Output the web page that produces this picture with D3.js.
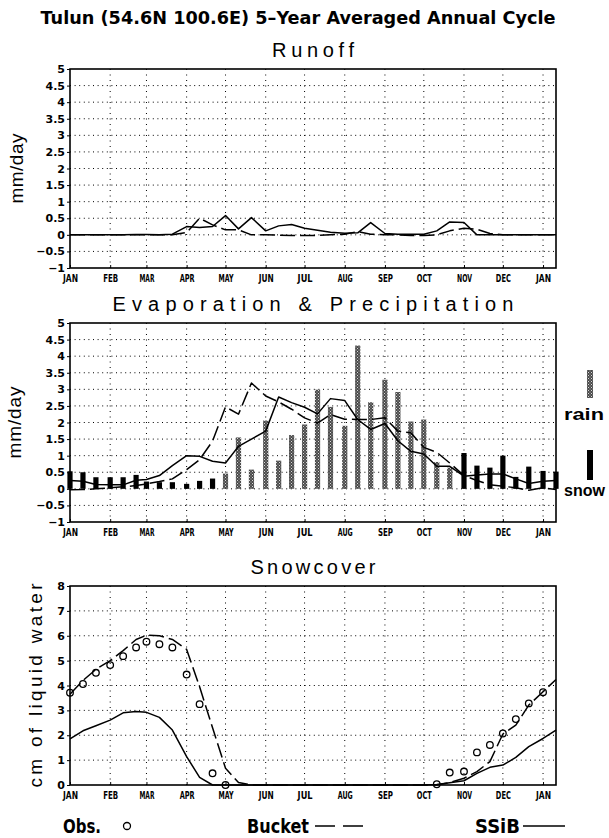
<!DOCTYPE html>
<html>
<head>
<meta charset="utf-8">
<script src="https://cdn.jsdelivr.net/npm/d3@7"></script>
<style>
  body { margin: 0; background: #fff; }
  svg { display: block; }
  .cond { font-family: "DejaVu Sans", sans-serif; font-weight: bold; }
  .narrow { font-family: "Liberation Sans", Arial, sans-serif; font-weight: bold; }
  .thin { font-family: "Liberation Sans", "DejaVu Sans", sans-serif; font-weight: normal; }
  .tick text { font-family: "DejaVu Sans", sans-serif; font-weight: bold; font-size: 11px; fill: #000; }
</style>
</head>
<body>
<svg id="chart" width="609" height="838"></svg>
<script>
// month labels (x axis) and day of year where each month starts
var monthLabels = ["JAN","FEB","MAR","APR","MAY","JUN","JUL","AUG","SEP","OCT","NOV","DEC","JAN"];
var monthStart  = [0, 31, 59, 90, 120, 151, 181, 212, 243, 273, 304, 334, 365];

// 10-day periods (day of year) used by all series
var dekadDays = [0,10,20, 31,41,51, 59,69,79, 90,100,110, 120,130,140, 151,161,171,
                 181,191,201, 212,222,232, 243,253,263, 273,283,293, 304,314,324,
                 334,344,354, 365,375];

// Runoff (mm/day)
var runoffBucket = [0,0,0,0,0,0,0,0,0, 0.07,0.5,0.3, 0.15,0.15,0,0,-0.01,-0.02,
                    -0.02,-0.02,0,0.02,0.1,0.02, 0,0,-0.02,-0.02,0,0.12,
                    0.2,0.17,0.04,0, 0,0,0,0];
var runoffSSiB   = [0,0,0,0,0,0.01,0.01,0,0.02, 0.25,0.22,0.25, 0.58,0.18,0.52,0.12,0.27,0.31,
                    0.2,0.14,0.08,0.05,0.06,0.37, 0.04,0.02,0.02,0.02,0.12,0.39,
                    0.37,0,0,0, 0,0,0,0];

// Precipitation bars (mm/day) and their type
var precip     = [0.53,0.5,0.35,0.35,0.35,0.42,0.22,0.2,0.2,0.15,0.24,0.31,
                  0.46,1.55,0.58,2.06,0.85,1.62,1.94,2.99,2.47,1.9,4.32,2.61,
                  3.29,2.92,2.03,2.09,0.81,0.64,1.08,0.7,0.64,1.0,0.36,0.67,0.54,0.52];
var precipType = ["snow","snow","snow","snow","snow","snow","snow","snow","snow","snow","snow","snow",
                  "rain","rain","rain","rain","rain","rain","rain","rain","rain","rain","rain","rain",
                  "rain","rain","rain","rain","rain","rain","snow","snow","snow","snow","snow","snow","snow","snow"];

// Evaporation (mm/day)
var evapBucket = [-0.03,-0.02,0,0.03,0.06,0.1,0.15,0.22,0.3, 0.58,0.88,1.44, 2.47,2.25,3.19,2.8,2.62,2.4,
                  2.14,1.98,2.24,2.1,2.09,2.09, 2.14,1.74,1.69,1.25,1.1,0.78,
                  0.4,0.25,0.12,0.08,0.03,-0.04,0.03,-0.02];
var evapSSiB   = [0.25,0.23,0.13,0.12,0.12,0.26,0.28,0.4,0.7, 1.0,0.98,0.83, 0.78,1.28,1.5,1.74,2.77,2.6,
                  2.46,2.26,2.72,2.66,2.09,1.79, 1.97,1.45,1.13,1.05,0.68,0.68,
                  0.38,0.42,0.45,0.45,0.3,0.16,0.23,0.25];

// Snowcover (cm of liquid water)
var snowBucket = [3.65,4.2,4.65,5.0,5.4,5.85,6.02,6.0,5.85, 5.45,3.95,2.3, 0.67,0.1,0,0,0,0,
                  0,0,0,0,0,0, 0,0,0,0,0,0.1, 0.27,0.54,0.94,2.05,2.41,3.21,3.75,4.24];
var snowSSiB   = [1.85,2.18,2.38,2.61,2.9,2.95,2.92,2.72,2.21, 1.14,0.31,0, 0,0,0,0,0,0,
                  0,0,0,0,0,0, 0,0,0,0,0.02,0.09, 0.17,0.47,0.71,0.8,1.11,1.54,1.87,2.21];
var obsDays = [0,10,20,31,41,51,59,69,79,90,100,110,120, 283,293,304,314,324,334,344,354,365];
var obsSnow = [3.71,4.06,4.51,4.82,5.18,5.53,5.76,5.66,5.53,4.44,3.25,0.47,0.0,
               0.03,0.5,0.54,1.31,1.61,2.07,2.65,3.28,3.73];

var svg = d3.select("#chart");
var x = d3.scaleLinear().domain([0, 375]).range([70, 556]);

svg.append("text").attr("class", "cond")
    .attr("x", 298).attr("y", 24).attr("text-anchor", "middle")
    .attr("font-size", 17)
    .attr("textLength", 515).attr("lengthAdjust", "spacingAndGlyphs")
    .text("Tulun (54.6N 100.6E) 5\u2013Year Averaged Annual Cycle");

// draws a panel frame, grid, axes; returns y scale
function panel(top, bottom, domain, yStep, title, titleLen, yLabel, yLabelLen, yLabelX) {
    var y = d3.scaleLinear().domain(domain).range([bottom, top]);
    var yTicks = d3.range(domain[0], domain[1] + yStep / 2, yStep);
    var g = svg.append("g");

    // dotted grid
    g.selectAll(".hg").data(yTicks.slice(1, -1)).enter().append("line")
        .attr("x1", 70).attr("x2", 556)
        .attr("y1", function(d){ return y(d); }).attr("y2", function(d){ return y(d); })
        .attr("stroke", "#000").attr("stroke-width", 1).attr("stroke-dasharray", "1,3.6");
    g.selectAll(".vg").data(monthStart.slice(1)).enter().append("line")
        .attr("x1", function(d){ return x(d); }).attr("x2", function(d){ return x(d); })
        .attr("y1", top).attr("y2", bottom)
        .attr("stroke", "#000").attr("stroke-width", 1).attr("stroke-dasharray", "1,4.5");

    g.append("g").attr("transform", "translate(70,0)")
        .call(d3.axisLeft(y).tickValues(yTicks).tickSize(3).tickPadding(2)
            .tickFormat(function(d){ return d3.format("")(+d.toFixed(1)).replace("-", "\u2212"); }))
        .call(function(a){ a.select(".domain").remove(); });
    var xa = g.append("g").attr("transform", "translate(0," + bottom + ")")
        .call(d3.axisBottom(x).tickValues(monthStart).tickSize(-3).tickPadding(6)
            .tickFormat(function(d, i){ return monthLabels[i]; }))
        .call(function(a){ a.select(".domain").remove(); });
    xa.selectAll(".tick text").attr("textLength", 15).attr("lengthAdjust", "spacingAndGlyphs");

    svg.append("text").attr("class", "thin")
        .attr("x", 313).attr("y", top - 12).attr("text-anchor", "middle")
        .attr("font-size", 20)
        .attr("textLength", titleLen).attr("lengthAdjust", "spacing")
        .text(title);

    svg.append("text").attr("class", "thin")
        .attr("transform", "translate(" + yLabelX + "," + ((top + bottom) / 2) + ") rotate(-90)")
        .attr("text-anchor", "middle").attr("font-size", 19)
        .attr("textLength", yLabelLen).attr("lengthAdjust", "spacing")
        .text(yLabel);
    return y;
}

function frame(top, bottom) {
    svg.append("rect").attr("x", 70).attr("y", top)
        .attr("width", 486).attr("height", bottom - top)
        .attr("fill", "none").attr("stroke", "#000").attr("stroke-width", 1.6);
}

function series(y, values, dashed) {
    var line = d3.line()
        .x(function(d, i){ return x(dekadDays[i]); })
        .y(function(d){ return y(d); });
    svg.append("path").datum(values)
        .attr("d", line).attr("fill", "none")
        .attr("stroke", "#000").attr("stroke-width", 1.5)
        .attr("stroke-linejoin", "round")
        .attr("stroke-dasharray", dashed ? "15,5" : null);
}

// stipple pattern for rain bars
var pat = svg.append("defs").append("pattern").attr("id", "stip")
    .attr("width", 3).attr("height", 3).attr("patternUnits", "userSpaceOnUse");
pat.append("rect").attr("width", 3).attr("height", 3).attr("fill", "#4a4a4a");
pat.append("rect").attr("x", 0).attr("y", 0).attr("width", 1).attr("height", 1).attr("fill", "#d8d8d8");
pat.append("rect").attr("x", 1.5).attr("y", 1.5).attr("width", 1).attr("height", 1).attr("fill", "#bdbdbd");

// Runoff
var yR = panel(69, 268, [-1, 5], 0.5, "Runoff", 82, "mm/day", 70, 23);
series(yR, runoffSSiB, false);
series(yR, runoffBucket, true);
frame(69, 268);

// Evaporation & Precipitation
var yE = panel(323, 522, [-1, 5], 0.5, "Evaporation & Precipitation", 401, "mm/day", 72, 21);
svg.append("g").selectAll("rect").data(precip).enter().append("rect")
    .attr("x", function(d, i){ return x(dekadDays[i]) - 2.6; })
    .attr("width", 5.2)
    .attr("y", function(d){ return yE(d); })
    .attr("height", function(d){ return yE(0) - yE(d); })
    .attr("fill", function(d, i){ return precipType[i] === "rain" ? "url(#stip)" : "#000"; });
series(yE, evapSSiB, false);
series(yE, evapBucket, true);
frame(323, 522);

// rain / snow key
svg.append("rect").attr("x", 587).attr("y", 370).attr("width", 6).attr("height", 28).attr("fill", "url(#stip)");
svg.append("text").attr("class", "narrow").attr("x", 564).attr("y", 420).attr("font-size", 17)
    .attr("textLength", 40).attr("lengthAdjust", "spacingAndGlyphs").text("rain");
svg.append("rect").attr("x", 587).attr("y", 450).attr("width", 6).attr("height", 30).attr("fill", "#000");
svg.append("text").attr("class", "narrow").attr("x", 564).attr("y", 496).attr("font-size", 17)
    .attr("textLength", 41).attr("lengthAdjust", "spacingAndGlyphs").text("snow");

// Snowcover
var yS = panel(586, 785, [0, 8], 1, "Snowcover", 125, "cm of liquid water", 204, 42);
series(yS, snowSSiB, false);
series(yS, snowBucket, true);
svg.append("g").selectAll("circle").data(obsSnow).enter().append("circle")
    .attr("cx", function(d, i){ return x(obsDays[i]); })
    .attr("cy", function(d){ return yS(d); })
    .attr("r", 3.3).attr("fill", "none").attr("stroke", "#000").attr("stroke-width", 1.3);
frame(586, 785);

// legend
var leg = svg.append("g").attr("class", "cond").attr("font-size", 20);
leg.append("text").attr("x", 63).attr("y", 833)
    .attr("textLength", 38).attr("lengthAdjust", "spacingAndGlyphs").text("Obs.");
leg.append("circle").attr("cx", 127).attr("cy", 826).attr("r", 3.5)
    .attr("fill", "none").attr("stroke", "#000").attr("stroke-width", 1.3);
leg.append("text").attr("x", 247).attr("y", 833)
    .attr("textLength", 62).attr("lengthAdjust", "spacingAndGlyphs").text("Bucket");
leg.append("line").attr("x1", 315).attr("x2", 367).attr("y1", 826).attr("y2", 826)
    .attr("stroke", "#000").attr("stroke-width", 1.6).attr("stroke-dasharray", "20,8");
leg.append("text").attr("x", 475).attr("y", 833)
    .attr("textLength", 45).attr("lengthAdjust", "spacingAndGlyphs").text("SSiB");
leg.append("line").attr("x1", 523).attr("x2", 565).attr("y1", 826).attr("y2", 826)
    .attr("stroke", "#000").attr("stroke-width", 1.6);
</script>
</body>
</html>
